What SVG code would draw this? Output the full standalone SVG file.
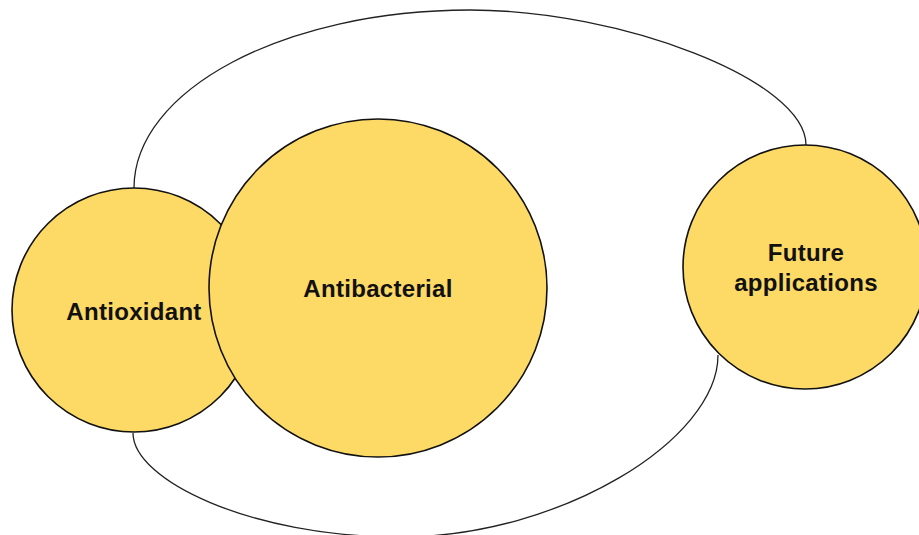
<svg xmlns="http://www.w3.org/2000/svg" width="919" height="535" viewBox="0 0 919 535">
<style>
.node{fill:#FDD966;stroke:#111;stroke-width:1.6}
.conn{fill:none;stroke:#222;stroke-width:1.3}
.lbl{font-family:"Liberation Sans",Arial,sans-serif;font-weight:bold;font-size:24px;fill:#111;text-anchor:middle;letter-spacing:0.3px}
</style>
<rect width="919" height="535" fill="#fff"/>
<g id="connectors">
<path class="conn" d="M134,188 C134,90 284,10 470,10 C620,10 806,80 806,145"/>
<path class="conn" d="M133,433 C133,480 250,537 400,537 C560,537 718,440 718,355"/>
</g>
<g id="antioxidant">
<circle class="node" cx="134" cy="310" r="122"/>
<text class="lbl" x="134" y="320">Antioxidant</text>
</g>
<g id="antibacterial">
<circle class="node" cx="378" cy="288" r="169"/>
<text class="lbl" x="378" y="297">Antibacterial</text>
</g>
<g id="future">
<circle class="node" cx="805" cy="267" r="122"/>
<text class="lbl" x="806" y="261">Future</text>
<text class="lbl" x="806" y="291">applications</text>
</g>
</svg>
